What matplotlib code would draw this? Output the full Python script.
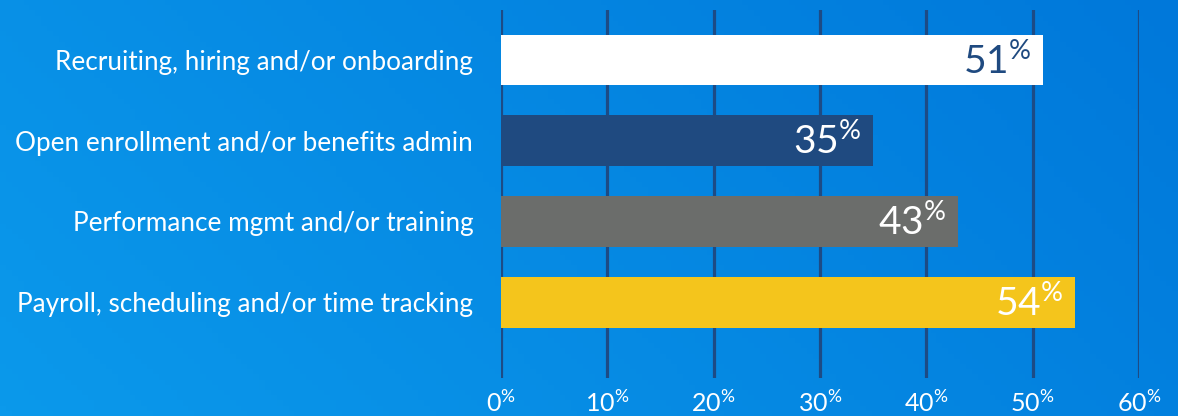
import numpy as np
import matplotlib
matplotlib.use("Agg")
import matplotlib.pyplot as plt
from matplotlib.colors import LinearSegmentedColormap

plt.rcParams['font.family'] = ['Lato', 'DejaVu Sans']
plt.rcParams['mathtext.fontset'] = 'custom'
plt.rcParams['mathtext.rm'] = 'Lato'
plt.rcParams['mathtext.default'] = 'regular'

# data
categories = ["Recruiting, hiring and/or onboarding",
              "Open enrollment and/or benefits admin",
              "Performance mgmt and/or training",
              "Payroll, scheduling and/or time tracking"]
values = [51, 35, 43, 54]
bar_colors = ["#ffffff", "#1f4a80", "#6b6d6b", "#f4c51c"]
label_colors = ["#1f4a80", "#ffffff", "#ffffff", "#ffffff"]
ticks = [0, 10, 20, 30, 40, 50, 60]

W, H = 1178, 416
fig = plt.figure(figsize=(W / 100, H / 100), dpi=100)

# background gradient (light bottom-left -> darker top-right)
bg = fig.add_axes([0, 0, 1, 1])
bg.set_axis_off()
xx, yy = np.meshgrid(np.linspace(0, 1, 200), np.linspace(0, 1, 80))
t = (xx * W / (W + H) + (1 - yy) * H / (W + H))
cmap = LinearSegmentedColormap.from_list("bg", ["#0b99eb", "#0078da"])
bg.imshow(t, cmap=cmap, aspect="auto", extent=[0, 1, 0, 1], origin="upper")

ax_left = 501 / W
ax_right = 1139 / W
ax_top = 1 - 10 / H
ax_bot = 1 - 378 / H
ax = fig.add_axes([ax_left, ax_bot, ax_right - ax_left, ax_top - ax_bot])
ax.patch.set_alpha(0)

y = np.arange(len(categories))
ax.barh(y, values, height=0.63, color=bar_colors, zorder=3)
ax.set_xlim(0, 60)
ax.set_ylim(3.94, -0.62)

for sp in ax.spines.values():
    sp.set_visible(False)

ax.set_xticks(ticks)
ax.set_xticklabels([f"{v}$^{{\\%}}$" for v in ticks], color="white", fontsize=18)
ax.grid(axis="x", color="#1d4b85", linewidth=2.3, zorder=1)
ax.tick_params(axis="x", length=0, pad=8)

ax.set_yticks(y)
ax.set_yticklabels(categories, color="white", fontsize=18.8)
ax.tick_params(axis="y", length=0, pad=20)

for yi, v, c in zip(y, values, label_colors):
    ax.annotate(f"{v}$^{{\\%}}$", xy=(v, yi), xytext=(-12, -1),
                textcoords="offset pixels", ha="right", va="center",
                color=c, fontsize=28, zorder=4)

fig.savefig("out.png", dpi=100)
